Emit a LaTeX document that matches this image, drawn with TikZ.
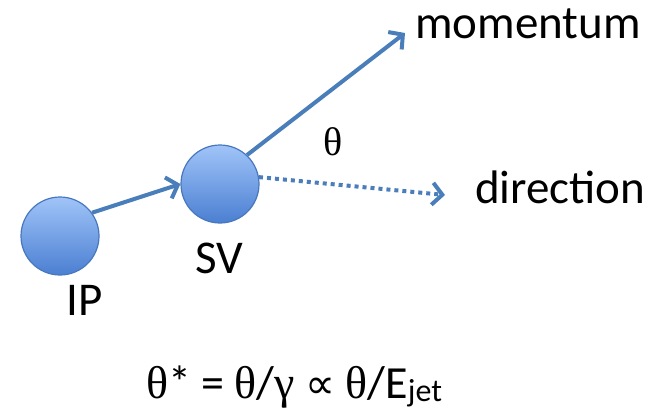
\documentclass[tikz,border=0pt]{standalone}
\usepackage{fontspec}
\setmainfont{Carlito}
\newfontfamily\symbfont{Liberation Serif}
\newfontfamily\opfont{DejaVu Sans}
\usetikzlibrary{arrows.meta,positioning}
\definecolor{Steel}{HTML}{4A7EBB}
\definecolor{BallTop}{HTML}{A0C4F8}
\definecolor{BallBot}{HTML}{4B7FD2}
\definecolor{BallRim}{HTML}{4777BE}

\begin{document}
\begin{tikzpicture}[x=1pt,y=-1pt,>={Straight Barb[length=10pt,width=22pt]},
  vertex/.style={circle,minimum size=78pt,inner sep=0pt,draw=BallRim,line width=1.2pt,
    top color=BallTop,bottom color=BallBot},
  track/.style={->,Steel,line width=4pt},
  lbl/.style={font=\fontsize{47}{50}\selectfont,inner sep=0pt}]
  \useasboundingbox (0,0) rectangle (661,407);
  % vertices
  \node[vertex] (ip) at (60,236) {};
  \node[vertex] (sv) at (220,184) {};
  \coordinate (momtip) at (405,33);
  \coordinate (dirtip) at (445,195);
  % tracks
  \draw[track] (ip.36) -- (sv.west);
  \draw[track] (sv.47) -- (momtip);
  \draw[track,dash pattern=on 4pt off 4pt] (sv.10) -- (dirtip);
  % labels
  \node[lbl,anchor=base west] (momentum) at (415,38) {momentum};
  \node[lbl,anchor=base west] (direction) at (475,203) {direction};
  \node[lbl,anchor=base] (svlabel) at (219,273) {SV};
  \node[lbl,anchor=base] (iplabel) at (85,315) {IP};
  \node[lbl,anchor=base,font=\symbfont\fontsize{40}{44}\selectfont] (theta) at (333,155) {θ};
  \node[inner sep=0pt,anchor=base,font=\fontsize{46}{48}\selectfont] (formula) at (294,398)
    {{\symbfont θ}* = {\symbfont θ}/{\symbfont γ} {\opfont\fontsize{42}{44}\selectfont ∝} {\symbfont θ}/E\raisebox{-3pt}{\fontsize{32}{34}\selectfont jet}};
\end{tikzpicture}
\end{document}
